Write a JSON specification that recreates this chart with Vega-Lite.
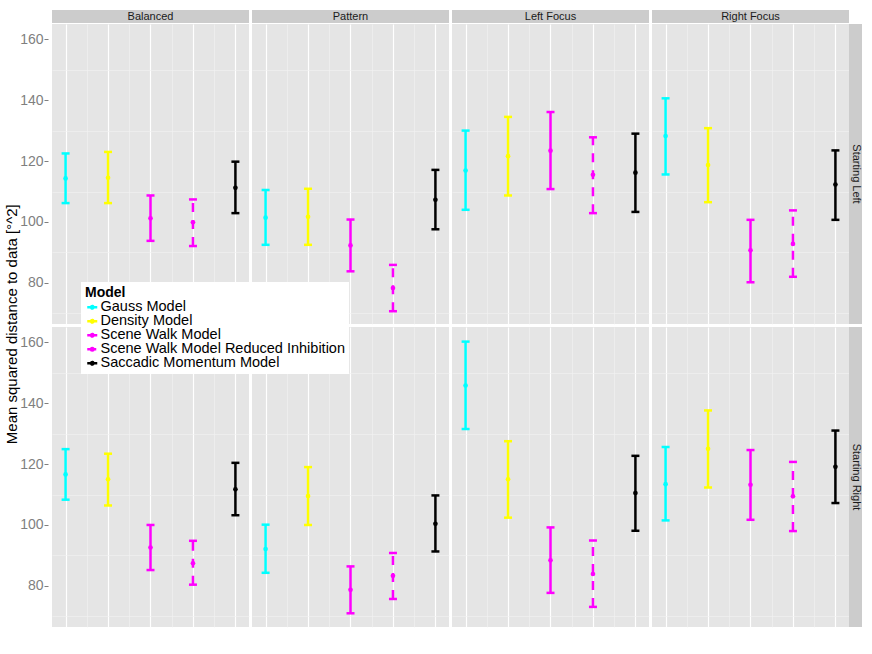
{
  "$schema": "https://vega.github.io/schema/vega-lite/v6.json",
  "padding": {"left": 4, "top": 9, "right": 8, "bottom": 5},
  "background": "white",
  "config": {
    "font": "Liberation Sans",
    "view": {"fill": "#E5E5E5", "stroke": null}
  },
  "title": {
    "text": "Mean squared distance to data [°^2]",
    "orient": "left",
    "anchor": "middle",
    "fontSize": 15,
    "fontWeight": "normal",
    "color": "#000000",
    "offset": 0,
    "dx": -6
  },
  "datasets": {
    "bars": [
      {"cond": "Balanced", "start": "Starting Left", "model": "Gauss Model", "idx": 1, "lo": 106.2, "mid": 114.3, "hi": 122.5},
      {"cond": "Balanced", "start": "Starting Left", "model": "Density Model", "idx": 2, "lo": 106.2, "mid": 114.5, "hi": 123.0},
      {"cond": "Balanced", "start": "Starting Left", "model": "Scene Walk Model", "idx": 3, "lo": 93.8, "mid": 101.2, "hi": 108.7},
      {"cond": "Balanced", "start": "Starting Left", "model": "Scene Walk Model Reduced Inhibition", "idx": 4, "lo": 92.1, "mid": 99.9, "hi": 107.4},
      {"cond": "Balanced", "start": "Starting Left", "model": "Saccadic Momentum Model", "idx": 5, "lo": 102.9, "mid": 111.2, "hi": 119.8},
      {"cond": "Pattern", "start": "Starting Left", "model": "Gauss Model", "idx": 1, "lo": 92.5, "mid": 101.4, "hi": 110.5},
      {"cond": "Pattern", "start": "Starting Left", "model": "Density Model", "idx": 2, "lo": 92.5, "mid": 101.7, "hi": 110.9},
      {"cond": "Pattern", "start": "Starting Left", "model": "Scene Walk Model", "idx": 3, "lo": 83.8, "mid": 92.3, "hi": 100.8},
      {"cond": "Pattern", "start": "Starting Left", "model": "Scene Walk Model Reduced Inhibition", "idx": 4, "lo": 70.7, "mid": 78.3, "hi": 85.9},
      {"cond": "Pattern", "start": "Starting Left", "model": "Saccadic Momentum Model", "idx": 5, "lo": 97.6, "mid": 107.3, "hi": 117.1},
      {"cond": "Left Focus", "start": "Starting Left", "model": "Gauss Model", "idx": 1, "lo": 104.0, "mid": 116.9, "hi": 130.0},
      {"cond": "Left Focus", "start": "Starting Left", "model": "Density Model", "idx": 2, "lo": 108.7, "mid": 121.6, "hi": 134.5},
      {"cond": "Left Focus", "start": "Starting Left", "model": "Scene Walk Model", "idx": 3, "lo": 110.8, "mid": 123.4, "hi": 136.1},
      {"cond": "Left Focus", "start": "Starting Left", "model": "Scene Walk Model Reduced Inhibition", "idx": 4, "lo": 102.9, "mid": 115.5, "hi": 127.8},
      {"cond": "Left Focus", "start": "Starting Left", "model": "Saccadic Momentum Model", "idx": 5, "lo": 103.3, "mid": 116.2, "hi": 129.0},
      {"cond": "Right Focus", "start": "Starting Left", "model": "Gauss Model", "idx": 1, "lo": 115.6, "mid": 128.2, "hi": 140.6},
      {"cond": "Right Focus", "start": "Starting Left", "model": "Density Model", "idx": 2, "lo": 106.5, "mid": 118.7, "hi": 130.8},
      {"cond": "Right Focus", "start": "Starting Left", "model": "Scene Walk Model", "idx": 3, "lo": 80.2, "mid": 90.7, "hi": 100.7},
      {"cond": "Right Focus", "start": "Starting Left", "model": "Scene Walk Model Reduced Inhibition", "idx": 4, "lo": 82.0, "mid": 92.8, "hi": 103.8},
      {"cond": "Right Focus", "start": "Starting Left", "model": "Saccadic Momentum Model", "idx": 5, "lo": 100.7, "mid": 112.3, "hi": 123.5},
      {"cond": "Balanced", "start": "Starting Right", "model": "Gauss Model", "idx": 1, "lo": 108.3, "mid": 116.6, "hi": 124.9},
      {"cond": "Balanced", "start": "Starting Right", "model": "Density Model", "idx": 2, "lo": 106.4, "mid": 115.0, "hi": 123.4},
      {"cond": "Balanced", "start": "Starting Right", "model": "Scene Walk Model", "idx": 3, "lo": 85.2, "mid": 92.6, "hi": 100.0},
      {"cond": "Balanced", "start": "Starting Right", "model": "Scene Walk Model Reduced Inhibition", "idx": 4, "lo": 80.4, "mid": 87.4, "hi": 94.8},
      {"cond": "Balanced", "start": "Starting Right", "model": "Saccadic Momentum Model", "idx": 5, "lo": 103.2, "mid": 111.7, "hi": 120.4},
      {"cond": "Pattern", "start": "Starting Right", "model": "Gauss Model", "idx": 1, "lo": 84.3, "mid": 92.1, "hi": 100.1},
      {"cond": "Pattern", "start": "Starting Right", "model": "Density Model", "idx": 2, "lo": 100.0, "mid": 109.5, "hi": 119.0},
      {"cond": "Pattern", "start": "Starting Right", "model": "Scene Walk Model", "idx": 3, "lo": 71.0, "mid": 78.7, "hi": 86.4},
      {"cond": "Pattern", "start": "Starting Right", "model": "Scene Walk Model Reduced Inhibition", "idx": 4, "lo": 75.7, "mid": 83.3, "hi": 90.8},
      {"cond": "Pattern", "start": "Starting Right", "model": "Saccadic Momentum Model", "idx": 5, "lo": 91.3, "mid": 100.4, "hi": 109.7},
      {"cond": "Left Focus", "start": "Starting Right", "model": "Gauss Model", "idx": 1, "lo": 131.5, "mid": 145.8, "hi": 160.2},
      {"cond": "Left Focus", "start": "Starting Right", "model": "Density Model", "idx": 2, "lo": 102.4, "mid": 115.0, "hi": 127.5},
      {"cond": "Left Focus", "start": "Starting Right", "model": "Scene Walk Model", "idx": 3, "lo": 77.7, "mid": 88.4, "hi": 99.2},
      {"cond": "Left Focus", "start": "Starting Right", "model": "Scene Walk Model Reduced Inhibition", "idx": 4, "lo": 73.1, "mid": 83.9, "hi": 94.9},
      {"cond": "Left Focus", "start": "Starting Right", "model": "Saccadic Momentum Model", "idx": 5, "lo": 98.1, "mid": 110.5, "hi": 122.7},
      {"cond": "Right Focus", "start": "Starting Right", "model": "Gauss Model", "idx": 1, "lo": 101.5, "mid": 113.4, "hi": 125.6},
      {"cond": "Right Focus", "start": "Starting Right", "model": "Density Model", "idx": 2, "lo": 112.3, "mid": 125.0, "hi": 137.6},
      {"cond": "Right Focus", "start": "Starting Right", "model": "Scene Walk Model", "idx": 3, "lo": 101.7, "mid": 113.2, "hi": 124.6},
      {"cond": "Right Focus", "start": "Starting Right", "model": "Scene Walk Model Reduced Inhibition", "idx": 4, "lo": 98.0, "mid": 109.4, "hi": 120.7},
      {"cond": "Right Focus", "start": "Starting Right", "model": "Saccadic Momentum Model", "idx": 5, "lo": 107.2, "mid": 119.1, "hi": 131.0}
    ],
    "cols": [
      {"cond": "Balanced"},
      {"cond": "Pattern"},
      {"cond": "Left Focus"},
      {"cond": "Right Focus"}
    ],
    "rows": [
      {"start": "Starting Left"},
      {"start": "Starting Right"}
    ]
  },
  "vconcat": [
    {
      "hconcat": [
        {
          "data": {"name": "rows"},
          "width": 1,
          "height": 13,
          "view": {"fill": null, "stroke": null},
          "mark": {"type": "point", "opacity": 0},
          "encoding": {
            "y": {
              "datum": 160,
              "type": "quantitative",
              "scale": {"domain": [0, 200]},
              "axis": {
                "values": [100],
                "labelExpr": "'160'",
                "labelFontSize": 14,
                "labelColor": "white",
                "labelPadding": 1,
                "tickSize": 4,
                "tickColor": "white",
                "domain": false,
                "grid": false,
                "title": null
              }
            }
          }
        },
        {
          "data": {"name": "cols"},
          "facet": {
            "column": {"field": "cond", "type": "nominal", "sort": ["Balanced", "Pattern", "Left Focus", "Right Focus"], "header": {"labels": false, "title": null}}
          },
          "spacing": 3,
          "spec": {
            "width": 197,
            "height": 13,
            "view": {"fill": "#CCCCCC", "stroke": null},
            "mark": {"type": "text", "fontSize": 11, "color": "#1A1A1A", "baseline": "middle"},
            "encoding": {"text": {"field": "cond", "type": "nominal"}}
          }
        }
      ],
      "spacing": 0
    },
    {
      "hconcat": [
        {
          "data": {"name": "rows"},
          "vconcat": [
            {
              "width": 1,
              "height": 300,
              "view": {"fill": null, "stroke": null},
              "mark": {"type": "point", "opacity": 0},
              "encoding": {
                "y": {
                  "datum": 100,
                  "type": "quantitative",
                  "scale": {"domain": [66.5, 165], "nice": false, "zero": false},
                  "axis": {
                    "values": [80, 100, 120, 140, 160],
                    "title": null,
                    "labelFontSize": 14,
                    "labelColor": "#7F7F7F",
                    "labelPadding": 1,
                    "tickColor": "#7F7F7F",
                    "tickSize": 4,
                    "domain": false,
                    "grid": false
                  }
                }
              }
            },
            {
              "width": 1,
              "height": 300,
              "view": {"fill": null, "stroke": null},
              "mark": {"type": "point", "opacity": 0},
              "encoding": {
                "y": {
                  "datum": 100,
                  "type": "quantitative",
                  "scale": {"domain": [66.5, 165], "nice": false, "zero": false},
                  "axis": {
                    "values": [80, 100, 120, 140, 160],
                    "title": null,
                    "labelFontSize": 14,
                    "labelColor": "#7F7F7F",
                    "labelPadding": 1,
                    "tickColor": "#7F7F7F",
                    "tickSize": 4,
                    "domain": false,
                    "grid": false
                  }
                }
              }
            }
          ],
          "spacing": 3
        },
        {
          "data": {"name": "bars"},
          "facet": {
            "row": {"field": "start", "type": "nominal", "header": {"labels": false, "title": null}},
            "column": {"field": "cond", "type": "nominal", "sort": ["Balanced", "Pattern", "Left Focus", "Right Focus"], "header": {"labels": false, "title": null}}
          },
          "spacing": 3,
          "spec": {
            "width": 197,
            "height": 300,
            "encoding": {
              "x": {
                "field": "idx",
                "type": "quantitative",
                "scale": {"domain": [0.68, 5.32], "nice": false, "zero": false},
                "axis": {
                  "values": [1, 1.5, 2, 2.5, 3, 3.5, 4, 4.5, 5],
                  "labels": false,
                  "ticks": false,
                  "domain": false,
                  "title": null,
                  "gridColor": {"condition": {"test": "datum.value % 1 === 0", "value": "#FFFFFF"}, "value": "#F2F2F2"},
                  "gridWidth": {"condition": {"test": "datum.value % 1 === 0", "value": 1.2}, "value": 0.6}
                }
              },
              "color": {
                "field": "model",
                "type": "nominal",
                "scale": {
                  "domain": ["Gauss Model", "Density Model", "Scene Walk Model", "Scene Walk Model Reduced Inhibition", "Saccadic Momentum Model"],
                  "range": ["#00FFFF", "#FFFF00", "#FF00FF", "#FF00FF", "#000000"]
                },
                "legend": {
                  "orient": "none",
                  "legendX": 33,
                  "legendY": 272,
                  "title": "Model",
                  "titleFontSize": 14,
                  "titleFontWeight": "bold",
                  "titleColor": "#000000",
                  "titlePadding": 0,
                  "labelFontSize": 14.5,
                  "labelColor": "#000000",
                  "labelLimit": 400,
                  "labelOffset": 1,
                  "rowPadding": -5,
                  "symbolType": "M-1,0H1M-0.25,0A0.25,0.25,0,1,0,0.25,0A0.25,0.25,0,1,0,-0.25,0",
                  "symbolSize": 100,
                  "symbolStrokeWidth": 2.5,
                  "fillColor": "#FFFFFF",
                  "padding": 4
                }
              }
            },
            "layer": [
              {
                "mark": {"type": "rule", "strokeWidth": 2.5},
                "encoding": {
                  "y": {
                    "field": "lo",
                    "type": "quantitative",
                    "scale": {"domain": [66.5, 165], "nice": false, "zero": false},
                    "axis": {
                      "values": [70, 80, 90, 100, 110, 120, 130, 140, 150, 160],
                      "title": null,
                      "labels": false,
                      "ticks": false,
                      "domain": false,
                      "gridColor": {"condition": {"test": "datum.value % 20 === 0", "value": "#FFFFFF"}, "value": "#F2F2F2"},
                      "gridWidth": {"condition": {"test": "datum.value % 20 === 0", "value": 1.2}, "value": 0.6}
                    }
                  },
                  "y2": {"field": "hi"},
                  "strokeDash": {
                    "field": "model",
                    "type": "nominal",
                    "scale": {
                      "domain": ["Gauss Model", "Density Model", "Scene Walk Model", "Scene Walk Model Reduced Inhibition", "Saccadic Momentum Model"],
                      "range": [[1, 0], [1, 0], [1, 0], [9, 8], [1, 0]]
                    },
                    "legend": null
                  }
                }
              },
              {
                "mark": {"type": "tick", "orient": "horizontal", "size": 8, "thickness": 2.5, "opacity": 1},
                "encoding": {"y": {"field": "lo", "type": "quantitative"}}
              },
              {
                "mark": {"type": "tick", "orient": "horizontal", "size": 8, "thickness": 2.5, "opacity": 1},
                "encoding": {"y": {"field": "hi", "type": "quantitative"}}
              },
              {
                "mark": {"type": "point", "filled": true, "size": 22, "opacity": 1},
                "encoding": {"y": {"field": "mid", "type": "quantitative"}}
              }
            ]
          }
        },
        {
          "data": {"name": "rows"},
          "facet": {
            "row": {"field": "start", "type": "nominal", "header": {"labels": false, "title": null}}
          },
          "spacing": 3,
          "spec": {
            "width": 13,
            "height": 300,
            "view": {"fill": "#CCCCCC", "stroke": null},
            "mark": {"type": "text", "fontSize": 11, "color": "#1A1A1A", "angle": 90, "baseline": "middle"},
            "encoding": {"text": {"field": "start", "type": "nominal"}}
          }
        }
      ],
      "spacing": 0
    }
  ],
  "spacing": 0
}
